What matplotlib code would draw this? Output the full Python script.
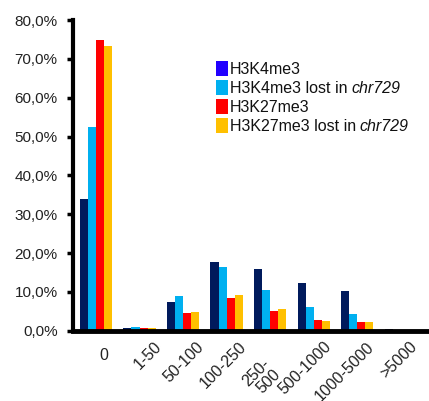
import matplotlib
matplotlib.use("Agg")
import matplotlib.pyplot as plt
import matplotlib.transforms as mtransforms
import numpy as np
from matplotlib.patches import Patch

plt.rcParams['font.family'] = ['Liberation Sans', 'DejaVu Sans']

categories = ['0', '1-50', '50-100', '100-250', '250-\n500', '500-1000', '1000-5000', '>5000']
h3k4 = [34.0, 0.8, 7.5, 17.8, 16.0, 12.2, 10.3, 0.5]
h3k4_lost = [52.5, 1.1, 9.0, 16.5, 10.6, 6.2, 4.4, 0.1]
h3k27 = [74.8, 0.6, 4.6, 8.5, 5.0, 2.9, 2.4, 0.1]
h3k27_lost = [73.3, 0.7, 4.9, 9.3, 5.5, 2.6, 2.3, 0.1]

series = [h3k4, h3k4_lost, h3k27, h3k27_lost]
bar_colors = ['#001a5c', '#00b0f0', '#ff0000', '#ffc000']
legend_colors = ['#2200ff', '#00b0f0', '#ff0000', '#ffc000']
labels = ['H3K4me3', 'H3K4me3 lost in', 'H3K27me3', 'H3K27me3 lost in']
italic_suffix = ['', 'chr729', '', 'chr729']

fig = plt.figure(figsize=(4.29, 4.01), dpi=100)
ax = fig.add_axes([0.170, 0.175, 0.828, 0.775])

x = np.arange(len(categories))
w = 0.185
for i, (vals, c) in enumerate(zip(series, bar_colors)):
    ax.bar(x + (i - 1.5) * w, vals, width=w, color=c, edgecolor='none')

ax.set_xlim(-0.53, 7.63)
ax.set_ylim(0, 80)
ax.set_yticks(np.arange(0, 81, 10))
ax.set_yticklabels([f"{v},0%" for v in range(0, 81, 10)], fontsize=11, color='#222222')
# label anchors are spaced slightly tighter than the bar groups, as in the reference
ax.set_xticks(0.355 + 0.977 * x)
ax.set_xticklabels(categories, rotation=45, ha='right', rotation_mode='anchor', fontsize=11.5,
                   color='#222222', linespacing=1.0)
ax.tick_params(axis='x', length=0, pad=6)
ax.tick_params(axis='y', length=4, width=2.5, direction='out', pad=7)
for s in ['top', 'right']:
    ax.spines[s].set_visible(False)
ax.spines['left'].set_linewidth(3)
ax.spines['bottom'].set_linewidth(3.5)

ticklabels = ax.get_xticklabels()
# the "0" label is upright in the reference
lab0 = ticklabels[0]
lab0.set_rotation(0)
lab0.set_ha('center')
lab0.set_rotation_mode('default')
lab0.set_transform(lab0.get_transform() + mtransforms.ScaledTranslation(-8 / 100, -9 / 100, fig.dpi_scale_trans))
# shift the two-line label like in the reference
lab = ticklabels[4]
lab.set_transform(lab.get_transform() + mtransforms.ScaledTranslation(-19 / 100, -17 / 100, fig.dpi_scale_trans))

handles = [Patch(facecolor=c, edgecolor='none') for c in legend_colors]
leg = ax.legend(handles, labels, loc='upper left', bbox_to_anchor=(0.403, 0.869), frameon=False,
                fontsize=11.5, handlelength=0.75, handleheight=1.1, handletextpad=0.1,
                labelspacing=0.18, borderaxespad=0, borderpad=0)
for t in leg.get_texts():
    t.set_color('#111111')

fig.canvas.draw()
renderer = fig.canvas.get_renderer()
for t, suf in zip(leg.get_texts(), italic_suffix):
    if suf:
        bb = t.get_window_extent(renderer)
        fig.text(bb.x1 + 4, bb.y0, suf, transform=None, ha='left', va='bottom',
                 fontsize=11.5, style='italic', color='#111111')

fig.savefig('out.png', dpi=100)
